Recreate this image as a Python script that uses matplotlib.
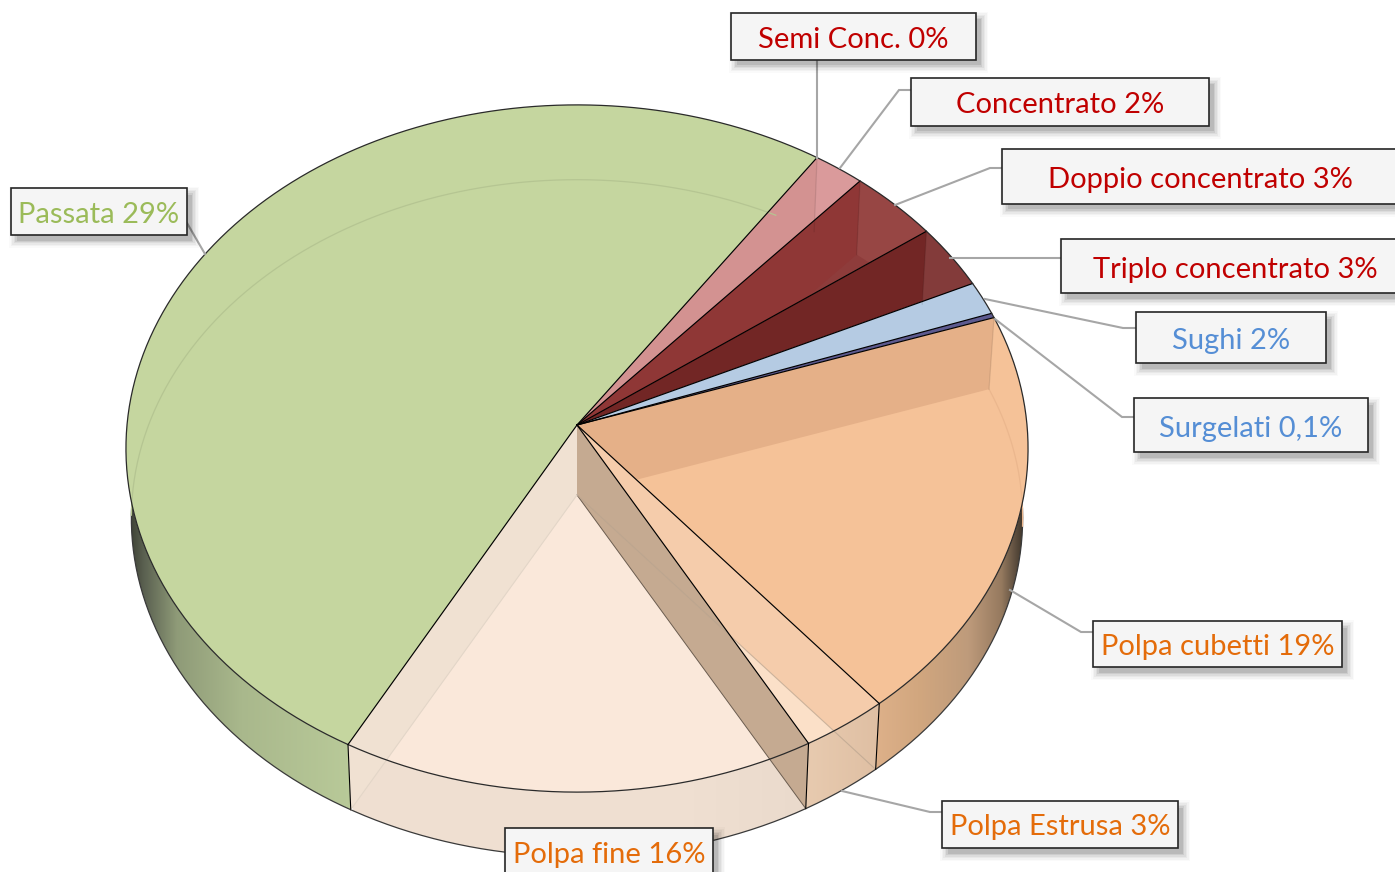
import numpy as np
import matplotlib
matplotlib.use("Agg")
import matplotlib.pyplot as plt
from matplotlib.colors import LinearSegmentedColormap
from matplotlib.patches import Polygon, Rectangle

plt.rcParams['font.family'] = ['Lato', 'DejaVu Sans']

# slices, clockwise from the Passata / Semi Conc. edge
names = ["Semi Conc.", "Concentrato", "Doppio concentrato", "Triplo concentrato", "Sughi",
         "Surgelati", "Polpa cubetti", "Polpa Estrusa", "Polpa fine", "Passata"]
printed = ["0%", "2%", "3%", "3%", "2%", "0,1%", "19%", "3%", "16%", "29%"]
# drawn share of the circle (Passata is drawn far bigger than printed)
shares = [0.0, 1.97, 3.47, 3.03, 1.58, 0.22, 19.22, 2.94, 15.97, 51.58]

start_wall_colors = ["#D39291", "#D39291", "#8F3736", "#722625", "#B5CBE3",
                     "#5D5A8F", "#E5B088", "#F5CCAB", "#C5AA91", "#C5D69F"]
far_rim_colors = ["#DA9A9B", "#DA9A9B", "#974644", "#833B3A", "#B5CBE3",
                  "#5D5A8F", "#F5C298", "#FBE0C8", "#FAE8DA", "#C5D69F"]
bottom_colors = ["#D39291", "#D39291", "#8E3C3B", "#722625", "#B5CBE3",
                 "#5D5A8F", "#F5C298", "#FBE0C8", "#FAE8DA", "#C5D69F"]

RED, BLUE, ORANGE, GREEN = "#C00000", "#558ED5", "#E46C0A", "#9BBB59"
label_colors = [RED, RED, RED, RED, BLUE, BLUE, ORANGE, ORANGE, ORANGE, GREEN]

# label boxes in pixels: left, top, right, bottom, then text centre
boxes = [(731, 13, 976, 60, 853, 40), (911, 78, 1209, 126, 1060, 105),
         (1002, 149, 1400, 204, 1200, 180), (1061, 239, 1400, 293, 1235, 270),
         (1136, 312, 1326, 363, 1231, 341), (1134, 398, 1368, 452, 1251, 429),
         (1093, 621, 1342, 667, 1218, 647), (942, 801, 1178, 848, 1060, 827),
         (505, 828, 713, 885, 609, 855), (11, 188, 187, 235, 99, 215)]
leaders = [[(817, 60), (817, 158)],
           [(911, 90), (899, 90), (840, 168)],
           [(1002, 168), (990, 168), (895, 205)],
           [(1061, 258), (950, 258)],
           [(1136, 328), (1123, 328), (985, 299)],
           [(1134, 417), (1122, 417), (995, 319)],
           [(1093, 632), (1081, 632), (1010, 590)],
           [(942, 812), (930, 812), (842, 791)],
           [],
           [(187, 223), (205, 254)]]

START_DEG = 34.3
CX, TOP_Y, BOT_Y = 577.0, 425.0, 495.0
A, B, K = 450.0, 342.0, 0.0684


def project(theta_deg, r=1.0, bottom=False):
    # perspective view of the disc, theta clockwise from the far point
    t = np.radians(np.asarray(theta_deg, dtype=float))
    u, v = r * np.sin(t), -r * np.cos(t)
    w = 1 - K * v
    x, y = A * u / w, B * v / w
    if bottom:
        return np.column_stack([CX + 0.988 * x, BOT_Y + 0.985 * y])
    return np.column_stack([CX + x, TOP_Y + y])


def arc(a, b, bottom=False):
    n = max(int(abs(b - a) * 2), 2)
    return project(np.linspace(a, b, n), bottom=bottom)


fig = plt.figure(figsize=(13.95, 8.72), dpi=100)
ax = fig.add_axes([0, 0, 1, 1])
ax.set_xlim(0, 1395)
ax.set_ylim(872, 0)
ax.axis("off")

edges = START_DEG + 360 * np.concatenate([[0], np.cumsum(shares)]) / np.sum(shares)
apex_top = project([0], r=0)[0]
apex_bot = project([0], r=0, bottom=True)[0]


def side_poly(a, b):
    return np.vstack([arc(a, b), arc(b, a, bottom=True)])


def wall_poly(theta):
    return np.vstack([apex_top, project([theta]), project([theta], bottom=True), apex_bot])


def gradient_side(a, b, stops, x0, x1, z=1):
    cmap = LinearSegmentedColormap.from_list("side", stops)
    img = ax.imshow(np.linspace(0, 1, 256).reshape(1, -1), cmap=cmap, extent=(x0, x1, 880, 400),
                    aspect="auto", zorder=z)
    clip = Polygon(side_poly(a, b), transform=ax.transData, fc="none", ec="none")
    ax.add_patch(clip)
    img.set_clip_path(clip)


# outer sides first, the faces cover whatever is behind them
i_cub, i_ext, i_fine, i_pas = 6, 7, 8, 9
gradient_side(edges[i_cub], edges[i_cub + 1],
              [(0, "#DEB18A"), (0.29, "#D2A77F"), (0.63, "#BE9B7B"), (0.85, "#967A5F"),
               (0.94, "#5F5040"), (1, "#3E352A")],
              874, 1024)
gradient_side(edges[i_pas], edges[i_pas + 1],
              [(0, "#3E4236"), (0.06, "#5A6050"), (0.21, "#8F9B78"), (0.5, "#A9B88C"), (1, "#B9CA99")],
              130, 353)
gradient_side(edges[i_ext], edges[i_ext + 1], [(0, "#E8CBB0"), (1, "#DFBFA3")], 804, 880)
gradient_side(edges[i_fine], edges[i_fine + 1], [(0, "#EFDFD1"), (0.7, "#F0E0D2"), (1, "#EADACC")], 353, 808)
base = arc(edges[i_cub], edges[i_pas + 1] - 100, bottom=True)
ax.plot(base[:, 0], base[:, 1], color="#3A3A3A", lw=0.9, zorder=1.5)

# top faces, with the inside of each slice showing through
for i in range(len(shares)):
    a, b = edges[i], edges[i + 1]
    if shares[i] == 0:
        continue
    face = Polygon(np.vstack([apex_top, arc(a, b)]), fc=bottom_colors[i], ec="none", zorder=2)
    ax.add_patch(face)
    if far_rim_colors[i] != bottom_colors[i]:
        p = Polygon(side_poly(a, b), fc=far_rim_colors[i], ec="none", zorder=2.1)
        ax.add_patch(p)
        p.set_clip_path(face)
    if start_wall_colors[i] != bottom_colors[i] and i != i_fine:
        p = Polygon(wall_poly(a), fc=start_wall_colors[i], ec="none", zorder=2.2)
        ax.add_patch(p)
        p.set_clip_path(face)

# walls of Polpa fine are seen through both its face and its side
ax.add_patch(Polygon(wall_poly(edges[i_fine + 1]), fc="#F0E1D2", ec="none", zorder=2.3))
ax.add_patch(Polygon(wall_poly(edges[i_fine]), fc="#C5AA91", ec="none", zorder=2.3))
ax.plot(*np.array([apex_bot, project([edges[i_fine]], bottom=True)[0]]).T,
        color="#6B5D50", lw=0.7, zorder=2.4)

# faint seen-through lines
t = project([edges[i_ext]], bottom=True)[0]
ax.plot([apex_bot[0], t[0]], [apex_bot[1], t[1]], color="#B9A48F", lw=0.8, alpha=0.7, zorder=2.5)
t = project([edges[i_fine + 1]], bottom=True)[0]
ax.plot([apex_bot[0], t[0]], [apex_bot[1], t[1]], color="#E3D6C8", lw=0.8, zorder=2.5)
far_arc = arc(edges[i_pas] + 58, edges[i_pas + 1] - 6, bottom=True)
ax.plot(far_arc[:, 0], far_arc[:, 1], color="#B5C592", lw=0.9, zorder=2.5)
near_arc = arc(edges[i_cub], edges[i_cub] + 24, bottom=True)
ax.plot(near_arc[:, 0], near_arc[:, 1], color="#EBB78E", lw=0.9, zorder=2.5)
for i in (1, 2, 3, 6):
    seg = np.vstack([project([edges[i]]), project([edges[i]], bottom=True)])
    ax.plot(seg[:, 0], seg[:, 1], color="#00000018", lw=0.9, zorder=2.5)

# outlines
for i in range(len(shares)):
    if shares[i] == 0:
        continue
    rim_pt = project([edges[i]])[0]
    ax.plot([apex_top[0], rim_pt[0]], [apex_top[1], rim_pt[1]], color="black", lw=0.85, zorder=3)
rim = arc(edges[0], edges[-1])
ax.plot(rim[:, 0], rim[:, 1], color="#2A2A2A", lw=0.9, zorder=3)
for i in (i_ext, i_fine, i_pas):
    seg = np.vstack([project([edges[i]]), project([edges[i]], bottom=True)])
    ax.plot(seg[:, 0], seg[:, 1], color="black", lw=0.8, zorder=3)

# leader lines and label boxes
for pts in leaders:
    if pts:
        xy = np.array(pts)
        ax.plot(xy[:, 0], xy[:, 1], color="#A6A6A6", lw=1.5, solid_joinstyle="miter", zorder=4)

for i, (x0, y0, x1, y1, tx, ty) in enumerate(boxes):
    for grow, alpha in ((7, 0.02), (5.5, 0.03), (4, 0.04), (2.5, 0.05), (1, 0.07), (-0.5, 0.09)):
        ax.add_patch(Rectangle((x0 + 5 - grow, y0 + 6 - grow), x1 - x0 + 2 * grow, y1 - y0 + 2 * grow,
                               fc="black", ec="none", alpha=alpha, zorder=5))
    ax.add_patch(Rectangle((x0, y0), x1 - x0, y1 - y0, fc="#F5F5F5", ec="#262626", lw=1.2, zorder=6))
    ax.text(tx, ty, f"{names[i]} {printed[i]}", color=label_colors[i], fontsize=21,
            ha="center", va="center", zorder=7)

plt.savefig("out.png", dpi=100)
